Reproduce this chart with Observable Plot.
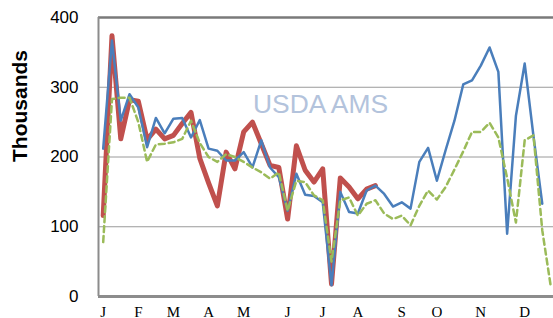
<!DOCTYPE html>
<html><head><meta charset="utf-8">
<script src="https://cdn.jsdelivr.net/npm/d3@7"></script>
<script src="https://cdn.jsdelivr.net/npm/@observablehq/plot@0.6"></script>
<style>body{margin:0;background:#fff;} svg{display:block;}</style>
</head><body><div id="chart"></div>
<script>
const monthLabels = ["J","F","M","A","M","J","J","A","S","O","N","D"];
const monthWeeks = [0,4,8,12,16,21,25,29,34,38,43,48];
const yTicks = [0,100,200,300,400];
const gridValues = [100,200,300];
const blueSeries = [212,367,252,290,271,214,256,234,255,256,228,253,212,209,195,195,207,185,224,185,171,123,176,146,144,135,16,150,121,119,152,159,147,129,135,126,193,213,166,210,252,304,310,331,357,322,90,259,334,230,133];
const redSeries = [116,374,226,282,280,225,240,226,231,248,264,198,163,130,207,183,236,250,219,188,185,111,216,181,164,183,18,170,157,140,154,159];
const greenSeries = [78,283,285,285,250,193,218,219,221,226,252,220,200,193,204,200,193,185,178,169,178,123,166,164,145,138,50,138,142,116,133,138,119,111,116,102,130,152,139,157,182,208,236,236,249,228,170,106,224,231,95,12];
const watermark = ["USDA AMS"];

const toRows = arr => arr.map((v, i) => ({week: i, value: v}));
const xDomain = [-0.535, 51.28];

const chart = Plot.plot({
  width: 553, height: 318,
  marginLeft: 98, marginRight: 0, marginTop: 17, marginBottom: 22,
  x: {domain: xDomain},
  y: {domain: [0, 400]},
  marks: [
    Plot.ruleY(gridValues, {stroke: "#9a9a9a", strokeWidth: 1}),
    Plot.ruleY([400], {stroke: "#7a7a7a", strokeWidth: 2.5}),
    Plot.text(watermark, {frameAnchor: "top-left", dx: 222, dy: 87, text: d => d, fill: "#b3c3dc", fontSize: 25, fontFamily: "Liberation Sans", textAnchor: "middle", lineAnchor: "middle"}),
    Plot.line(toRows(redSeries), {x: "week", y: "value", stroke: "#C0504D", strokeWidth: 5, strokeLinejoin: "round", strokeLinecap: "round"}),
    Plot.line(toRows(blueSeries), {x: "week", y: "value", stroke: "#4A7EBB", strokeWidth: 2.5, strokeLinejoin: "round"}),
    Plot.line(toRows(greenSeries), {x: "week", y: "value", stroke: "#9BBB59", strokeWidth: 2.5, strokeDasharray: "6,4", strokeLinejoin: "round"}),
    Plot.ruleY([0], {stroke: "#8c8c8c", strokeWidth: 3}),
    Plot.ruleX([xDomain[0]], {stroke: "#8c8c8c", strokeWidth: 2}),
    Plot.axisY(yTicks, {label: null, tickSize: 0, tickPadding: 20, fontSize: 17, fontFamily: "Liberation Sans", fill: "#000"}),
    Plot.axisX(monthWeeks, {label: null, tickSize: 0, tickPadding: 10, fontSize: 15, fontFamily: "Liberation Serif", fill: "#000",
      tickFormat: d => monthLabels[monthWeeks.indexOf(d)]})
  ]
});

const svg = d3.select(chart);
svg.selectAll("text").filter(function() { return this.textContent === "USDA AMS"; })
  .attr("textLength", 135).attr("lengthAdjust", "spacingAndGlyphs");
svg.append("text")
  .attr("transform", "translate(27,106) rotate(-90)")
  .attr("text-anchor", "middle")
  .attr("font-family", "Liberation Sans")
  .attr("font-weight", "bold")
  .attr("font-size", 21)
  .attr("fill", "#000")
  .text("Thousands");
document.getElementById("chart").appendChild(chart);
</script>
</body></html>
